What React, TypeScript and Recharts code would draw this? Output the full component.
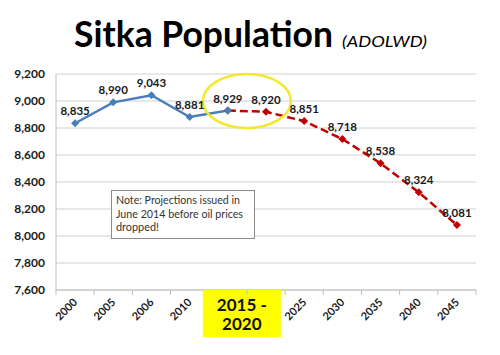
import { LineChart, Line, XAxis, YAxis, CartesianGrid, LabelList, ReferenceDot } from "recharts";

const years = ["2000", "2005", "2006", "2010", "2015", "2020", "2025", "2030", "2035", "2040", "2045"];
const estimates = [8835, 8990, 9043, 8881, 8929, null, null, null, null, null, null];
const projections = [null, null, null, null, 8929, 8920, 8851, 8718, 8538, 8324, 8081];
const yTicks = [7600, 7800, 8000, 8200, 8400, 8600, 8800, 9000, 9200];
const noteLines = ["Note: Projections issued in", "June 2014 before oil prices", "dropped!"];

const W = 500, H = 355;
const M = { top: 74, right: 24, bottom: 0, left: 0 };
const Y_W = 56;
const STEP = (W - M.left - M.right - Y_W) / years.length;

const BLUE = "#4a7ebb";
const RED = "#c00000";
const FONT = "Lato, 'Open Sans', sans-serif";

const data = years.map((year, i) => ({ i, year, est: estimates[i], proj: projections[i] }));
const fmt = (v: number) => v.toLocaleString("en-US");

const diamond = (color: string, r: number) => (p: any) => {
  if (p.cx == null || p.cy == null || p.value == null) return <g key={p.key ?? p.index} />;
  const { cx, cy } = p;
  return <path key={p.key ?? p.index} d={`M${cx},${cy - r}L${cx + r},${cy}L${cx},${cy + r}L${cx - r},${cy}Z`} fill={color} />;
};

const valueLabel = (skip?: number) => (p: any) => {
  if (p.value == null || p.value === skip) return null;
  return (
    <text x={p.x} y={p.y - 8} textAnchor="middle" fontFamily={FONT} fontWeight={700} fontSize={11.5} fill="#1a1a1a">
      {fmt(p.value)}
    </text>
  );
};

function YearTick(props: any) {
  const { x, y, payload } = props;
  const i = payload.value as number;
  const half = STEP / 2;
  const marks = (
    <>
      <line x1={x - half} y1={y} x2={x - half} y2={y + 5} stroke="#bfbfbf" />
      {i === years.length - 1 && <line x1={x + half} y1={y} x2={x + half} y2={y + 5} stroke="#bfbfbf" />}
    </>
  );
  if (i === 5) return <g>{marks}</g>;
  if (i === 4) {
    return (
      <g>
        {marks}
        <rect x={x - 25} y={y} width={78} height={47} fill="#ffff00" />
        <text x={x + 14} y={y + 21} textAnchor="middle" fontFamily={FONT} fontWeight={700} fontSize={17} fill="#111">
          {`${years[4]} -`}
        </text>
        <text x={x + 14} y={y + 40} textAnchor="middle" fontFamily={FONT} fontWeight={700} fontSize={17} fill="#111">
          {years[5]}
        </text>
      </g>
    );
  }
  return (
    <g>
      {marks}
      <text
        transform={`translate(${x + 3},${y + 13}) rotate(-45)`}
        textAnchor="end"
        fontFamily={FONT}
        fontWeight={700}
        fontSize={11}
        fill="#1a1a1a"
      >
        {years[i]}
      </text>
    </g>
  );
}

export default function App() {
  return (
    <div style={{ position: "relative", width: W, height: H, background: "#fff" }}>
      <style>{`body{margin:0}`}</style>
      <LineChart width={W} height={H} data={data} margin={M} style={{ position: "absolute", left: 0, top: 0 }}>
        <CartesianGrid vertical={false} stroke="#d0d0d0" />
        <XAxis
          dataKey="i"
          type="number"
          domain={[-0.5, years.length - 0.5]}
          ticks={years.map((_, i) => i)}
          interval={0}
          tick={<YearTick />}
          tickLine={false}
          tickSize={0}
          tickMargin={0}
          height={H - 290}
          stroke="#bfbfbf"
        />
        <YAxis
          domain={[7600, 9200]}
          ticks={yTicks}
          width={Y_W}
          tickFormatter={fmt}
          tickLine={false}
          tickMargin={5}
          stroke="#bfbfbf"
          tick={{ fontFamily: FONT, fontWeight: 700, fontSize: 12, fill: "#1a1a1a" }}
        />
        <ReferenceDot
          x={4.5}
          y={9000}
          r={1}
          shape={(p: any) => (
            <ellipse cx={p.cx} cy={p.cy} rx={44} ry={27} fill="none" stroke="#f2e92e" strokeWidth={2.5} />
          )}
        />
        <Line
          dataKey="proj"
          stroke={RED}
          strokeWidth={2.5}
          strokeDasharray="8 4"
          dot={diamond(RED, 4)}
          activeDot={false}
          isAnimationActive={false}
        >
          <LabelList dataKey="proj" content={valueLabel(estimates[4] as number)} />
        </Line>
        <Line
          dataKey="est"
          stroke={BLUE}
          strokeWidth={2.5}
          dot={diamond(BLUE, 4)}
          activeDot={false}
          isAnimationActive={false}
        >
          <LabelList dataKey="est" content={valueLabel()} />
        </Line>
      </LineChart>
      <svg width={W} height={H} style={{ position: "absolute", left: 0, top: 0, pointerEvents: "none" }}>
        <text x={74} y={47} fontFamily={FONT} fontWeight={700} fontSize={36} fill="#000" textLength={259} lengthAdjust="spacingAndGlyphs">
          Sitka Population
        </text>
        <text x={342} y={47} fontFamily={FONT} fontStyle="italic" fontSize={16} fill="#000" textLength={85} lengthAdjust="spacingAndGlyphs">
          (ADOLWD)
        </text>
        <rect x={111.5} y={190.5} width={143} height={48} fill="#fff" stroke="#8c8c8c" />
        {noteLines.map((t, k) => (
          <text
            key={k}
            x={116}
            y={204 + k * 13.5}
            fontFamily={FONT}
            fontSize={11.5}
            fill="#333"
            textLength={[124, 127, 43][k]}
            lengthAdjust="spacingAndGlyphs"
          >
            {t}
          </text>
        ))}
      </svg>
    </div>
  );
}
